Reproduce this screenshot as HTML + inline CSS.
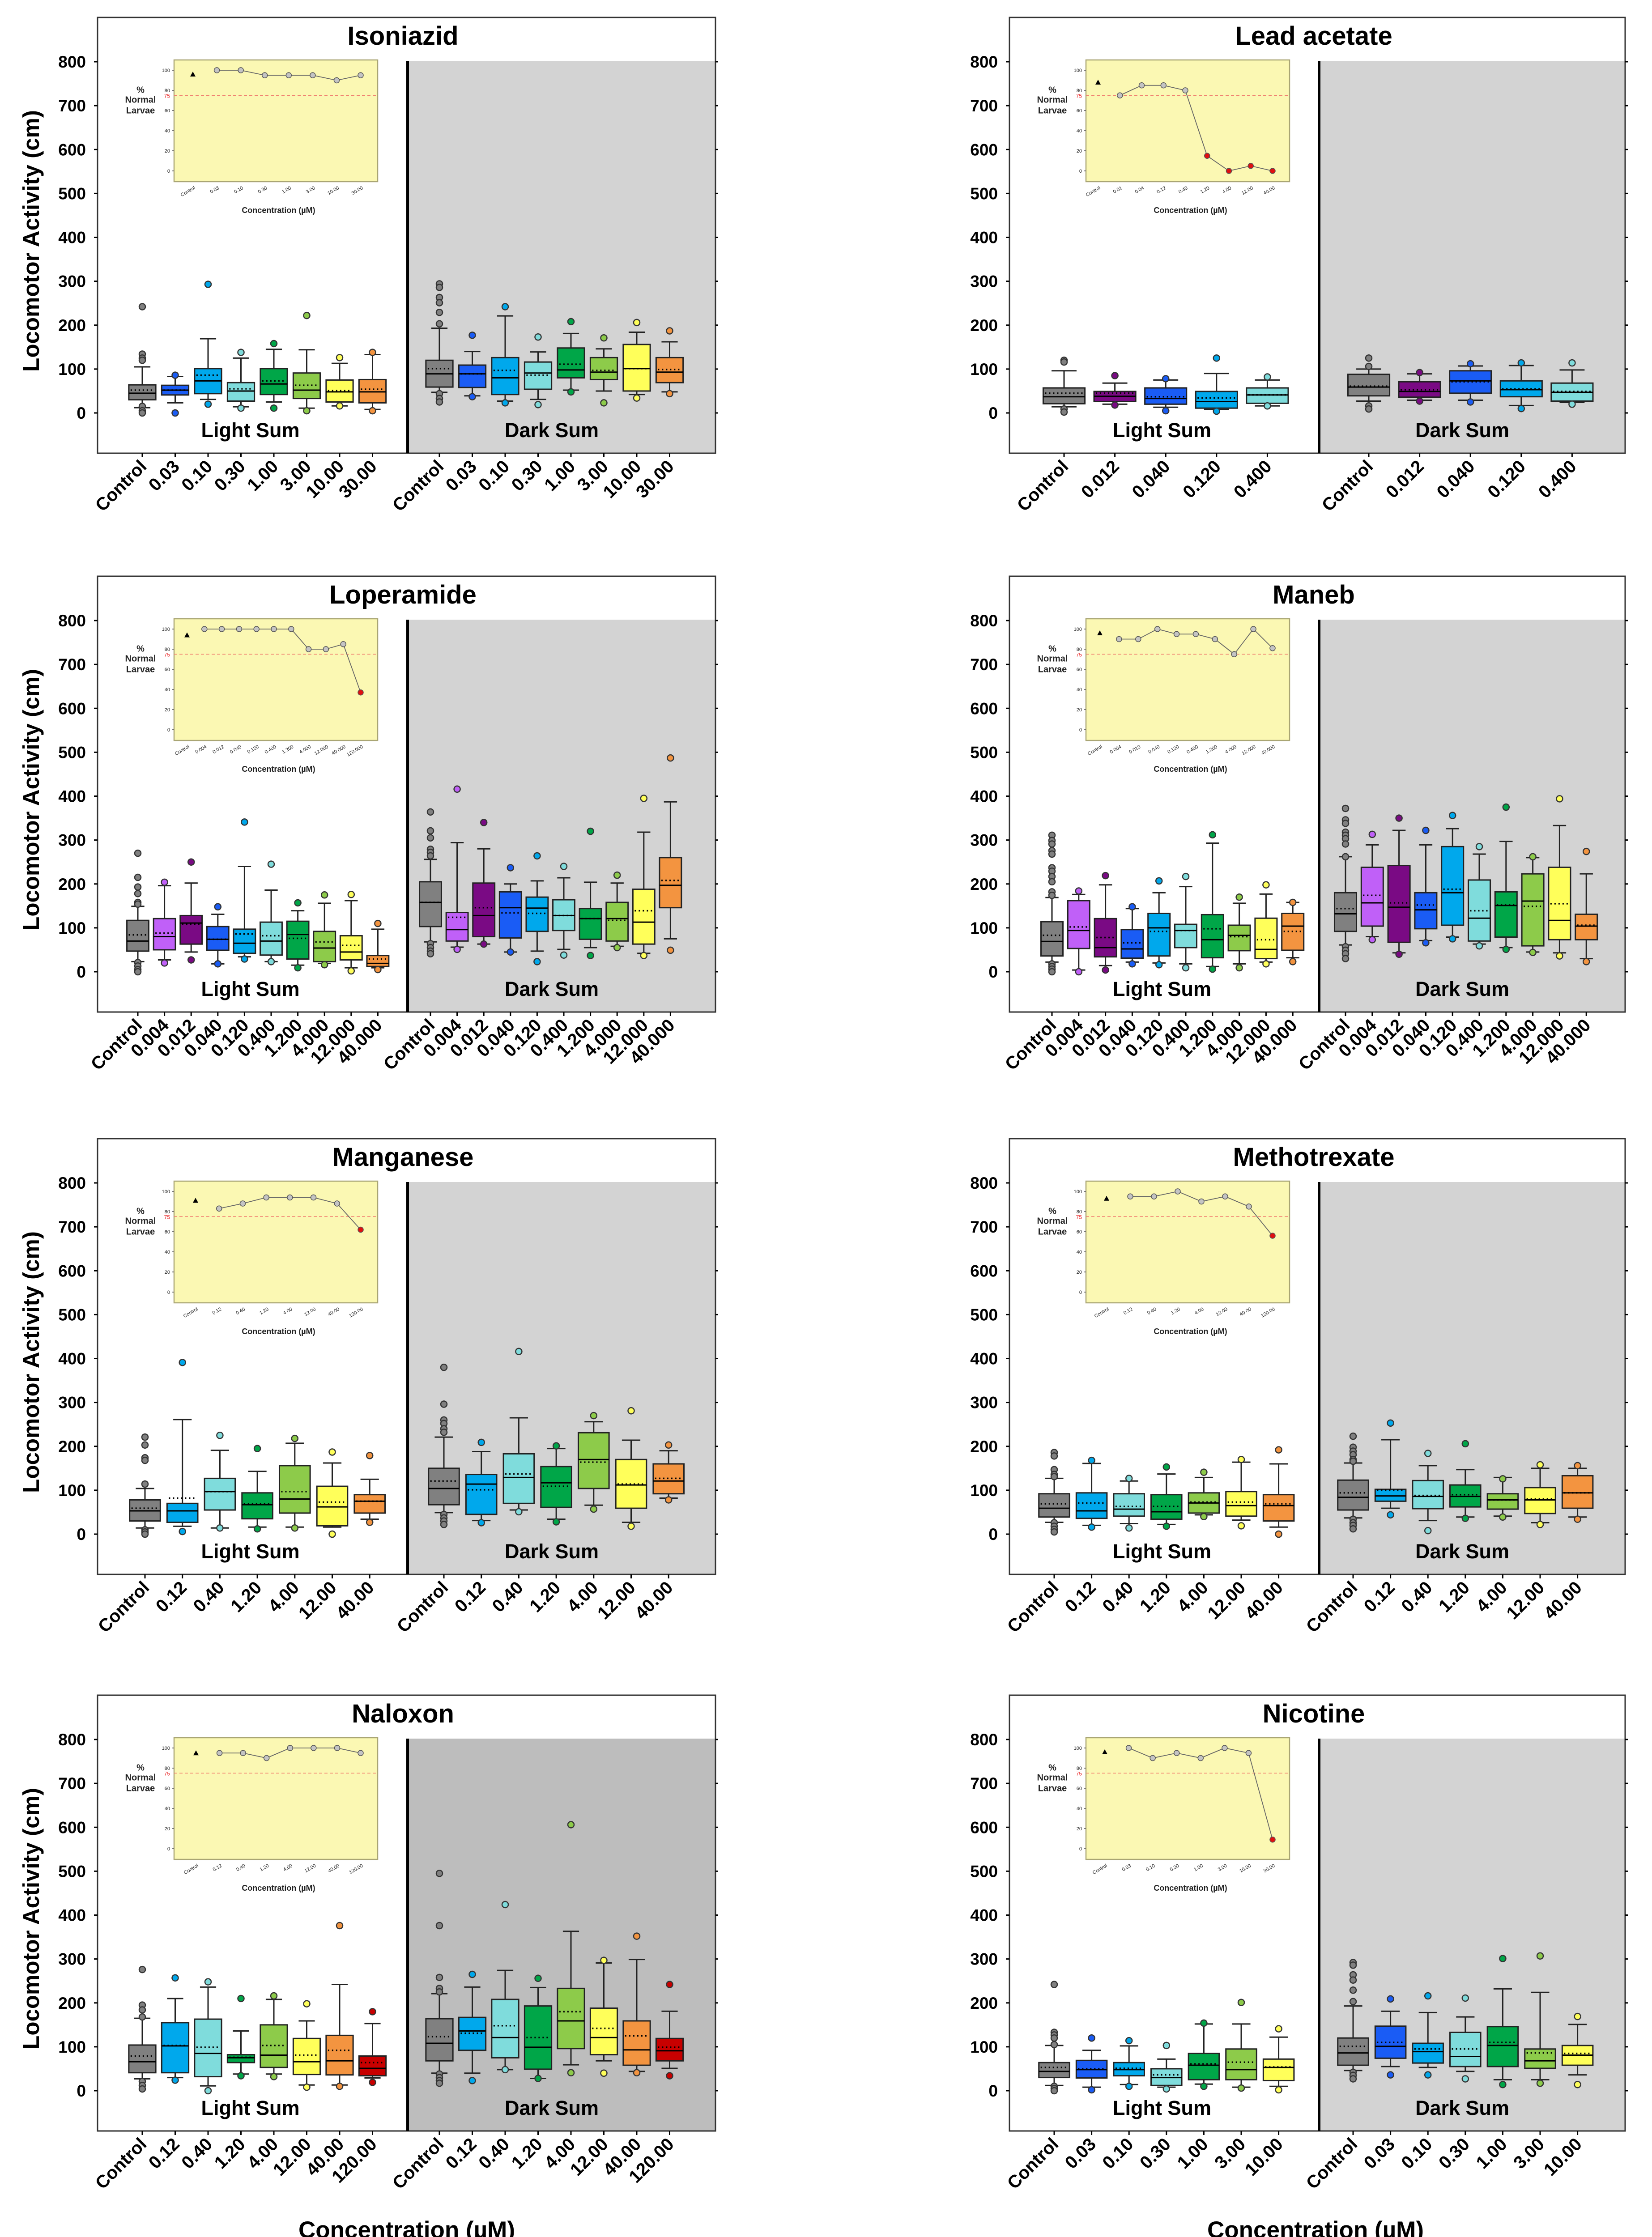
<!DOCTYPE html>
<html><head><meta charset="utf-8"><title>Locomotor Activity</title>
<style>
html,body{margin:0;padding:0;background:#fff;width:3692px;height:5055px;overflow:hidden;position:relative;}
svg{display:block;position:absolute;left:0;top:0;font-family:"Liberation Sans",Arial,sans-serif;}
</style></head>
<body>
<svg id="fig" width="3692" height="5055" viewBox="0 0 3692 5055" xmlns="http://www.w3.org/2000/svg">
<rect x="0" y="0" width="3692" height="5055" fill="#fff"/>
<text x="909" y="5002" font-size="53" font-weight="bold" text-anchor="middle">Concentration (µM)</text>
<text x="2940" y="5002" font-size="53" font-weight="bold" text-anchor="middle">Concentration (µM)</text>
</svg>
<script>
// ===== DATA (box arrays: [whiskerLow, q1, median, q3, whiskerHigh, mean]) =====
const isoLabels = ["Control","0.03","0.10","0.30","1.00","3.00","10.00","30.00"];
const isoLight = [[12,30,45,64,105,52],[23,41,52,63,83,52],[31,44,73,101,169,86],[14,27,50,69,125,55],[25,42,66,101,145,73],[11,33,52,91,144,63],[16,25,48,75,113,51],[8,23,48,76,133,54]];
const isoLightOut = [[242,134,125,120,15,5,0],[86,0],[293,20],[138,11],[158,11],[222,5],[126,16],[138,5]];
const isoDark = [[47,59,89,120,193,101],[39,58,89,109,140,89],[27,42,80,126,221,97],[31,54,91,116,139,86],[52,80,98,148,181,111],[50,76,93,126,146,97],[42,50,101,156,184,101],[48,69,93,126,162,99]];
const isoDarkOut = [[294,286,263,251,229,203,44,33,25],[177,37],[242,23],[173,19],[208,48],[171,23],[206,34],[187,44]];
const isoInsetConc = ["Control","0.03","0.10","0.30","1.00","3.00","10.00","30.00"];
const isoInsetPct = [96,100,100,95,95,95,90,95];

const leadLabels = ["Control","0.012","0.040","0.120","0.400"];
const leadLight = [[14,21,37,57,96,45],[20,26,38,49,68,45],[13,20,33,57,75,37],[8,11,26,49,90,34],[16,22,41,57,75,41]];
const leadLightOut = [[120,116,9,2],[85,18],[78,5],[125,4],[82,16]];
const leadDark = [[27,39,59,88,100,61],[29,36,49,71,89,53],[29,45,73,96,107,71],[17,37,53,73,108,55],[24,27,47,68,98,49]];
const leadDarkOut = [[125,106,16,9],[92,27],[112,25],[114,10],[114,20]];
const leadInsetConc = ["Control","0.01","0.04","0.12","0.40","1.20","4.00","12.00","40.00"];
const leadInsetPct = [88,75,85,85,80,15,0,5,0];

const lopLabels = ["Control","0.004","0.012","0.040","0.120","0.400","1.200","4.000","12.000","40.000"];
const lopLight = [[23,47,70,117,149,84],[27,50,80,121,196,88],[45,63,111,128,202,108],[18,49,74,103,131,74],[34,42,65,97,240,86],[23,38,70,113,186,82],[15,29,85,115,139,76],[19,23,54,92,156,68],[9,27,45,82,162,60],[9,12,19,37,97,29]];
const lopLightOut = [[270,215,193,178,158,154,21,13,5,0],[204,20],[250,27],[148,18],[341,29],[245,23],[157,9],[175,16],[176,2],[110,5]];
const lopDark = [[68,103,158,205,256,158],[56,70,96,135,294,124],[63,80,128,202,280,146],[45,77,146,182,200,134],[47,92,145,170,207,133],[51,94,128,164,214,128],[55,74,121,144,204,121],[58,70,121,158,202,117],[42,63,113,188,318,139],[75,146,197,260,387,208]];
const lopDarkOut = [[364,321,305,279,272,264,64,55,47,41],[416,51],[340,63],[237,45],[264,23],[240,38],[320,37],[220,55],[395,37],[487,49]];
const lopInsetConc = ["Control","0.004","0.012","0.040","0.120","0.400","1.200","4.000","12.000","40.000","120.000"];
const lopInsetPct = [94,100,100,100,100,100,100,80,80,85,37];

const manebLabels = ["Control","0.004","0.012","0.040","0.120","0.400","1.200","4.000","12.000","40.000"];
const manebLight = [[22,36,69,114,169,83],[4,53,94,162,176,102],[14,34,55,121,198,78],[22,31,52,96,144,66],[20,36,100,133,180,92],[18,55,94,108,194,94],[12,32,73,130,293,98],[18,48,83,106,156,80],[22,30,51,122,177,73],[32,49,104,133,158,92]];
const manebLightOut = [[311,299,291,276,268,237,229,217,205,182,174,18,12,6,0],[184,0],[219,4],[148,18],[207,16],[217,9],[312,6],[170,9],[198,18],[158,23]];
const manebDark = [[61,92,132,180,262,144],[80,104,157,238,289,174],[43,67,147,242,322,157],[71,98,141,180,289,152],[79,106,180,285,326,188],[63,70,122,209,268,139],[55,79,151,182,297,152],[45,59,161,223,260,149],[43,73,117,238,333,155],[30,73,104,131,223,106]];
const manebDarkOut = [[372,346,338,318,311,303,291,262,57,49,41,30],[313,73],[350,40],[322,66],[356,75],[285,59],[375,51],[262,44],[394,36],[274,23]];
const manebInsetConc = ["Control","0.004","0.012","0.040","0.120","0.400","1.200","4.000","12.000","40.000"];
const manebInsetPct = [96,90,90,100,95,95,90,75,100,81];

const mnLabels = ["Control","0.12","0.40","1.20","4.00","12.00","40.00"];
const mnLight = [[14,30,53,78,104,59],[18,27,53,70,261,82],[14,55,97,127,191,97],[16,35,67,94,143,69],[16,48,80,156,207,97],[16,19,62,109,162,73],[34,48,75,90,125,75]];
const mnLightOut = [[221,203,174,168,114,10,5,0],[391,6],[225,14],[195,12],[218,14],[187,0],[179,27]];
const mnDark = [[49,67,104,150,221,121],[31,45,114,136,188,101],[55,70,129,183,265,137],[34,61,117,154,195,109],[66,104,170,231,256,164],[27,59,112,170,214,114],[82,92,121,160,190,127]];
const mnDarkOut = [[380,296,260,252,240,232,45,37,30,22],[209,26],[416,51],[201,28],[270,57],[281,18],[203,78]];
const mnInsetConc = ["Control","0.12","0.40","1.20","4.00","12.00","40.00","120.00"];
const mnInsetPct = [91,83,88,94,94,94,88,62];

const mtxLabels = ["Control","0.12","0.40","1.20","4.00","12.00","40.00"];
const mtxLight = [[27,39,59,92,127,69],[20,36,53,94,161,71],[24,41,57,92,121,63],[22,34,51,90,137,63],[44,48,71,94,129,73],[32,41,65,97,164,73],[16,30,65,90,160,69]];
const mtxLightOut = [[186,178,147,136,131,26,18,11,5],[168,16],[127,14],[153,18],[141,40],[170,19],[192,0]];
const mtxDark = [[37,55,84,123,162,94],[59,75,87,102,215,100],[31,58,86,122,156,88],[39,62,86,112,147,90],[41,57,78,92,129,78],[26,47,78,106,150,80],[39,59,94,133,150,94]];
const mtxDarkOut = [[223,198,189,181,170,166,34,26,20,12],[253,44],[184,8],[206,36],[126,39],[158,22],[156,34]];
const mtxInsetConc = ["Control","0.12","0.40","1.20","4.00","12.00","40.00","120.00"];
const mtxInsetPct = [93,95,95,100,90,95,85,56];

const nalLabels = ["Control","0.12","0.40","1.20","4.00","12.00","40.00","120.00"];
const nalLight = [[27,41,66,104,165,79],[30,41,102,155,210,103],[11,32,85,163,236,99],[38,64,75,82,136,76],[38,53,81,150,208,103],[13,37,66,119,159,81],[13,36,68,126,242,92],[29,34,51,79,153,64]];
const nalLightOut = [[276,195,184,168,21,12,4],[257,24],[248,0],[210,34],[216,32],[198,8],[376,10],[180,19]];
const nalDark = [[40,68,108,164,221,123],[40,92,136,167,236,131],[48,75,121,208,274,148],[28,49,99,193,235,121],[59,96,159,233,363,180],[68,82,121,188,291,142],[44,58,93,159,299,125],[51,68,91,119,181,99]];
const nalDarkOut = [[495,376,258,233,225,38,30,23,17],[265,23],[424,48],[256,28],[606,41],[297,40],[352,41],[242,34]];
const nalInsetConc = ["Control","0.12","0.40","1.20","4.00","12.00","40.00","120.00"];
const nalInsetPct = [95,95,95,90,100,100,100,95];

const nicLabels = ["Control","0.03","0.10","0.30","1.00","3.00","10.00"];
const nicLight = [[12,30,44,64,103,53],[8,29,48,69,92,50],[14,34,48,64,102,51],[8,12,30,50,72,36],[15,25,58,85,152,61],[8,25,48,95,152,65],[10,23,53,72,122,54]];
const nicLightOut = [[242,133,127,120,105,10,5,0],[120,2],[114,10],[103,4],[154,10],[201,6],[141,2]];
const nicDark = [[46,58,86,120,193,101],[55,74,101,147,181,110],[53,63,89,108,178,95],[44,55,78,133,168,95],[25,55,103,146,232,110],[25,51,68,95,224,86],[36,58,81,103,151,85]];
const nicDarkOut = [[292,286,264,252,229,203,42,35,27],[209,36],[216,36],[211,27],[301,14],[307,17],[169,14]];
const nicInsetConc = ["Control","0.03","0.10","0.30","1.00","3.00","10.00","30.00"];
const nicInsetPct = [96,100,90,95,90,100,95,9];

const yTicks = [0,100,200,300,400,500,600,700,800];
const insetTicks = [0,20,40,60,80,100];

// ===== STYLE / LAYOUT =====
const C = {gray:"#808080",blue:"#1a5cf5",lblue:"#00a8ec",cyan:"#7fdcdc",green:"#00a648",lgreen:"#8dcb4a",yellow:"#ffff5a",orange:"#f39440",violet:"#c060f8",purple:"#7a0a84",red:"#c80000"};
const cols = {L:{fl:218,fr:1599,div:911,ins:389}, R:{fl:2256,fr:3632,div:2948,ins:2427}};
const rowY800 = [138,1387,2644,3888];
const PX = 785/800;
const svg = document.getElementById('fig');
const NS = "http://www.w3.org/2000/svg";
function mk(tag, attrs, parent){const e=document.createElementNS(NS,tag);for(const k in attrs)e.setAttribute(k,attrs[k]);(parent||svg).appendChild(e);return e;}

function drawPanel(p){
  const c = cols[p.col];
  const y800 = rowY800[p.row], y0 = y800 + 800*PX;
  const Y = v => y0 - v*PX;
  const ft = y800 - 99, fb = y0 + 90;
  const g = mk('g',{});
  
  
  const bg = mk('rect',{x:c.div,y:y800-2,width:c.fr-c.div,height:fb-y800+2,fill:p.darkBg||"#d3d3d3"},g);
  
  
  const fr = mk('rect',{x:c.fl,y:ft,width:c.fr-c.fl,height:fb-ft,fill:"none",stroke:"#333",'stroke-width':3},g);
  
  
  const dv = mk('line',{x1:c.div,y1:y800-2,x2:c.div,y2:fb,stroke:"#000",'stroke-width':6},g);
  
  
  const t = mk('text',{x:(c.fl+c.fr)/2-8,y:y800-38,'font-size':58,'font-weight':'bold','text-anchor':'middle'},g);
  t.textContent = p.title;
  
  
  yTicks.forEach(v=>{
    const y = Y(v);
    mk('line',{x1:c.fl-8,y1:y,x2:c.fl,y2:y,stroke:"#000",'stroke-width':3},g);
    mk('line',{x1:c.fr,y1:y,x2:c.fr+6,y2:y,stroke:"#000",'stroke-width':3},g);
    const tl = mk('text',{x:c.fl-26,y:y+13,'font-size':37,'font-weight':'bold','text-anchor':'end'},g);
    tl.textContent = v;
    
    
  });
  if(p.col==='L'){
    const yt = mk('text',{x:0,y:0,'font-size':51,'font-weight':'bold','text-anchor':'middle',transform:`translate(87,${(y800+y0)/2+8}) rotate(-90)`},g);
    yt.textContent = "Locomotor Activity (cm)";
    
    
  }
  const ls = mk('text',{x:(c.fl+c.div)/2-5,y:y0+54,'font-size':45,'font-weight':'bold','text-anchor':'middle'},g);
  ls.textContent = "Light Sum";
  
  
  const ds = mk('text',{x:(c.div+c.fr)/2-22,y:y0+54,'font-size':45,'font-weight':'bold','text-anchor':'middle'},g);
  ds.textContent = "Dark Sum";
  
  
  const bw = p.step*0.82;
  function series(data, outs, start, phase){
    data.forEach((d,i)=>{
      const cx = start + i*p.step, col = p.colors[i];
      const bg2 = mk('g',{},g);
      
      
      mk('line',{x1:cx,y1:Y(d[0]),x2:cx,y2:Y(d[1]),stroke:"#222",'stroke-width':3},bg2);
      mk('line',{x1:cx,y1:Y(d[3]),x2:cx,y2:Y(d[4]),stroke:"#222",'stroke-width':3},bg2);
      mk('line',{x1:cx-bw*0.3,y1:Y(d[0]),x2:cx+bw*0.3,y2:Y(d[0]),stroke:"#222",'stroke-width':3},bg2);
      mk('line',{x1:cx-bw*0.3,y1:Y(d[4]),x2:cx+bw*0.3,y2:Y(d[4]),stroke:"#222",'stroke-width':3},bg2);
      mk('rect',{x:cx-bw/2,y:Y(d[3]),width:bw,height:Y(d[1])-Y(d[3]),fill:col,stroke:"#222",'stroke-width':3},bg2);
      mk('line',{x1:cx-bw/2,y1:Y(d[2]),x2:cx+bw/2,y2:Y(d[2]),stroke:"#000",'stroke-width':3},bg2);
      mk('line',{x1:cx-bw/2+4,y1:Y(d[5]),x2:cx+bw/2-4,y2:Y(d[5]),stroke:"#000",'stroke-width':3.5,'stroke-dasharray':'3,6'},bg2);
      outs[i].forEach(v=>{
        const o = mk('circle',{cx:cx,cy:Y(v),r:7,fill:col,stroke:"#333",'stroke-width':2.5},bg2);
        
        
      });
      mk('line',{x1:cx,y1:fb,x2:cx,y2:fb+9,stroke:"#000",'stroke-width':3},g);
      const xl = mk('text',{x:cx+12,y:fb+32,'font-size':40,'font-weight':'bold','text-anchor':'end',transform:`rotate(-45 ${cx+12} ${fb+32})`},g);
      xl.textContent = p.labels[i];
      
      
    });
  }
  series(p.light, p.lightOut, p.x0, 'light');
  series(p.dark, p.darkOut, p.dx0, 'dark');
  const il = c.ins, iw = 455, it = y800-4, ib = y800+268;
  const ig = mk('g',{},g);
  
  
  mk('rect',{x:il,y:it,width:iw,height:ib-it,fill:"#fbf8b3",stroke:"#a9a574",'stroke-width':2.5},ig);
  const IY = v => it + 248 - v*2.25;
  insetTicks.forEach(v=>{
    mk('line',{x1:il-5,y1:IY(v),x2:il,y2:IY(v),stroke:"#555",'stroke-width':1.5},ig);
    const tl = mk('text',{x:il-9,y:IY(v)+4,'font-size':11,'text-anchor':'end',fill:"#222"},ig);
    tl.textContent = v;
  });
  mk('line',{x1:il,y1:IY(75),x2:il+iw,y2:IY(75),stroke:"#f08070",'stroke-width':1.6,'stroke-dasharray':'7,5'},ig);
  const r75 = mk('text',{x:il-9,y:IY(75)+5,'font-size':12,'text-anchor':'end',fill:"#e82020"},ig);
  r75.textContent = "75";
  [["%",-6],["Normal",16],["Larvae",40]].forEach(([s,dy])=>{
    const tt = mk('text',{x:il-75,y:IY(75)+dy,'font-size':20,'font-weight':'bold','text-anchor':'middle',fill:"#222"},ig);
    tt.textContent = s;
  });
  const n = p.insetPct.length;
  const ix0 = il + p.insFirst, ix1 = il + iw - 38, istep = (ix1-ix0)/(n-1);
  const pts = p.insetPct.slice(1).map((v,i)=>[ix0+(i+1)*istep, IY(v)]);
  mk('polyline',{points:pts.map(q=>q.join(',')).join(' '),fill:"none",stroke:"#666",'stroke-width':1.8},ig);
  const cy = IY(p.insetPct[0]);
  const tri = mk('polygon',{points:`${ix0},${cy-6} ${ix0-6},${cy+5} ${ix0+6},${cy+5}`,fill:"#000"},ig);
  
  
  p.insetPct.slice(1).forEach((v,i)=>{
    const pc = mk('circle',{cx:ix0+(i+1)*istep,cy:IY(v),r:6,fill:v<75?"#e01010":"#c4c4c4",stroke:"#555",'stroke-width':1.5},ig);
    
    
  });
  p.insetConc.forEach((s,i)=>{
    const x = ix0+i*istep;
    const tl = mk('text',{x:x+6,y:ib+16,'font-size':11,'text-anchor':'end',fill:"#222",transform:`rotate(-30 ${x+6} ${ib+16})`},ig);
    tl.textContent = s;
  });
  const ct = mk('text',{x:il+iw/2+6,y:ib+70,'font-size':18,'font-weight':'bold','text-anchor':'middle',fill:"#222"},ig);
  ct.textContent = "Concentration (µM)";
}

const K = C;
const panels = [
 {key:"isoniazid",title:"Isoniazid",col:"L",row:0,x0:318,step:73.5,dx0:982,insFirst:42,labels:isoLabels,light:isoLight,lightOut:isoLightOut,dark:isoDark,darkOut:isoDarkOut,insetConc:isoInsetConc,insetPct:isoInsetPct,colors:[K.gray,K.blue,K.lblue,K.cyan,K.green,K.lgreen,K.yellow,K.orange]},
 {key:"lead-acetate",title:"Lead acetate",col:"R",row:0,x0:2378,step:113.6,dx0:3059,insFirst:27,labels:leadLabels,light:leadLight,lightOut:leadLightOut,dark:leadDark,darkOut:leadDarkOut,insetConc:leadInsetConc,insetPct:leadInsetPct,colors:[K.gray,K.purple,K.blue,K.lblue,K.cyan]},
 {key:"loperamide",title:"Loperamide",col:"L",row:1,x0:308,step:59.6,dx0:962,insFirst:29,labels:lopLabels,light:lopLight,lightOut:lopLightOut,dark:lopDark,darkOut:lopDarkOut,insetConc:lopInsetConc,insetPct:lopInsetPct,colors:[K.gray,K.violet,K.purple,K.blue,K.lblue,K.cyan,K.green,K.lgreen,K.yellow,K.orange]},
 {key:"maneb",title:"Maneb",col:"R",row:1,x0:2351,step:59.8,dx0:3007,insFirst:31,labels:manebLabels,light:manebLight,lightOut:manebLightOut,dark:manebDark,darkOut:manebDarkOut,insetConc:manebInsetConc,insetPct:manebInsetPct,colors:[K.gray,K.violet,K.purple,K.blue,K.lblue,K.cyan,K.green,K.lgreen,K.yellow,K.orange]},
 {key:"manganese",title:"Manganese",col:"L",row:2,x0:324,step:83.7,dx0:992,insFirst:48,labels:mnLabels,light:mnLight,lightOut:mnLightOut,dark:mnDark,darkOut:mnDarkOut,insetConc:mnInsetConc,insetPct:mnInsetPct,colors:[K.gray,K.lblue,K.cyan,K.green,K.lgreen,K.yellow,K.orange]},
 {key:"methotrexate",title:"Methotrexate",col:"R",row:2,x0:2356,step:83.6,dx0:3024,insFirst:46,labels:mtxLabels,light:mtxLight,lightOut:mtxLightOut,dark:mtxDark,darkOut:mtxDarkOut,insetConc:mtxInsetConc,insetPct:mtxInsetPct,colors:[K.gray,K.lblue,K.cyan,K.green,K.lgreen,K.yellow,K.orange]},
 {key:"naloxon",title:"Naloxon",col:"L",row:3,x0:318,step:73.5,dx0:982,insFirst:49,darkBg:"#bdbdbd",labels:nalLabels,light:nalLight,lightOut:nalLightOut,dark:nalDark,darkOut:nalDarkOut,insetConc:nalInsetConc,insetPct:nalInsetPct,colors:[K.gray,K.lblue,K.cyan,K.green,K.lgreen,K.yellow,K.orange,K.red]},
 {key:"nicotine",title:"Nicotine",col:"R",row:3,x0:2356,step:83.6,dx0:3024,insFirst:42,labels:nicLabels,light:nicLight,lightOut:nicLightOut,dark:nicDark,darkOut:nicDarkOut,insetConc:nicInsetConc,insetPct:nicInsetPct,colors:[K.gray,K.blue,K.lblue,K.cyan,K.green,K.lgreen,K.yellow]}
];
panels.forEach(drawPanel);
</script>
</body></html>
